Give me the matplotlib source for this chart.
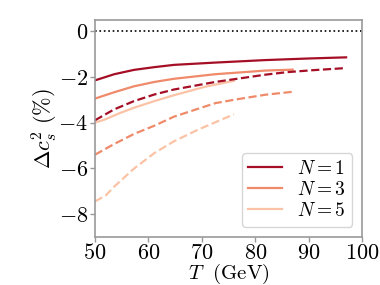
import matplotlib
matplotlib.use('Agg')
import matplotlib.pyplot as plt

plt.rcParams['font.family'] = 'serif'
plt.rcParams['font.serif'] = ['cmr10', 'DejaVu Serif']
plt.rcParams['mathtext.fontset'] = 'cm'
plt.rcParams['axes.formatter.use_mathtext'] = True
plt.rcParams['font.size'] = 16

# solid curves
t1 = [50, 53.6, 57.3, 61.1, 64.8, 72.5, 81.9, 90, 97]
s1 = [-2.15, -1.88, -1.69, -1.57, -1.47, -1.37, -1.26, -1.19, -1.14]
t3 = [50, 53.6, 57.3, 61.1, 64.8, 72.5, 81.9, 87]
s3 = [-2.95, -2.67, -2.41, -2.22, -2.08, -1.88, -1.72, -1.68]
t5 = [50, 51.7, 54.5, 57.3, 61.1, 64.8, 70.6, 76]
s5 = [-4.0, -3.88, -3.6, -3.35, -3.06, -2.8, -2.43, -2.17]

# dashed curves
u1 = [50, 53.6, 57.3, 61.1, 64.8, 72.5, 81.9, 85.9, 91, 97]
d1 = [-3.9, -3.42, -3.06, -2.77, -2.55, -2.22, -1.9, -1.79, -1.70, -1.61]
u3 = [50, 53.6, 57.3, 61.1, 64.8, 72.5, 76.3, 81.9, 87]
d3 = [-5.41, -4.94, -4.5, -4.14, -3.74, -3.15, -2.99, -2.78, -2.65]
u5 = [50, 52, 53.6, 57.3, 61.1, 64.8, 69.4, 76]
d5 = [-7.46, -7.2, -6.81, -6.02, -5.34, -4.82, -4.3, -3.64]

colors = ['#a50f26', '#ef8a6a', '#fbc3a6']
labels = [r'$N=1$', r'$N=3$', r'$N=5$']

fig = plt.figure(figsize=(3.8, 2.85), dpi=100)
ax = fig.add_axes([0.25, 0.17, 0.703, 0.76])

ax.axhline(0, color='k', ls=':', lw=1.2)

ax.plot(t1, s1, color=colors[0], lw=1.6, label=labels[0])
ax.plot(t3, s3, color=colors[1], lw=1.6, label=labels[1])
ax.plot(t5, s5, color=colors[2], lw=1.6, label=labels[2])
ax.plot(u1, d1, color=colors[0], lw=1.6, ls='--')
ax.plot(u3, d3, color=colors[1], lw=1.6, ls='--')
ax.plot(u5, d5, color=colors[2], lw=1.6, ls='--')

ax.set_xlim(50, 100)
ax.set_ylim(-9, 0.5)
ax.set_yticks([0, -2, -4, -6, -8])
ax.set_xticks([50, 60, 70, 80, 90, 100])

ax.set_xlabel(r'$T\ \ (\mathrm{GeV})$', fontsize=15, labelpad=-1)
ax.set_ylabel(r'$\Delta c_s^2\ (\%)$', labelpad=-1)

for s in ax.spines.values():
    s.set_color('#999999')
    s.set_linewidth(1.2)
ax.tick_params(color='#999999', length=3.5, width=1, pad=1.5)

ax.legend(loc='lower right', fontsize=14, handlelength=1.7, borderpad=0.35,
          labelspacing=0.15, handletextpad=0.8, framealpha=0.8)

fig.savefig('out.png', dpi=100)
